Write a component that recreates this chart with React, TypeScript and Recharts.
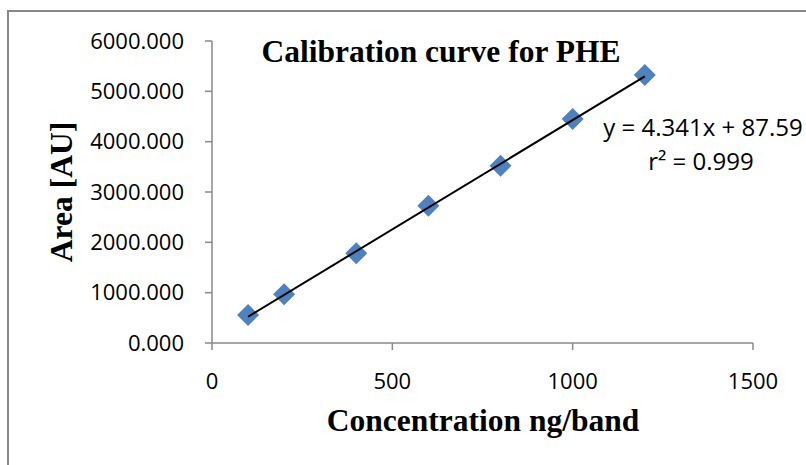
import React from 'react';
import { ScatterChart, Scatter, XAxis, YAxis } from 'recharts';

const concentrations = [100, 200, 400, 600, 800, 1000, 1200];
const areas = [556, 967, 1782, 2728, 3523, 4451, 5325];
const xTicks = [0, 500, 1000, 1500];
const yTicks = [0, 1000, 2000, 3000, 4000, 5000, 6000];
const slope = 4.341;
const intercept = 87.59;
const trendX = [100, 1200];
const titleText = 'Calibration curve for PHE';
const xLabelText = 'Concentration ng/band';
const yLabelText = 'Area [AU]';
const equationText = 'y = 4.341x + 87.59';
const r2Text = 'r² = 0.999';

const pointData = concentrations.map((x, i) => ({ x, y: areas[i] }));
const trendData = trendX.map((x) => ({ x, y: slope * x + intercept }));

const W = 806;
const H = 465;
const AXIS = '#898989';
const SANS = '"Open Sans", sans-serif';
const SERIF = '"Liberation Serif", "Times New Roman", serif';

const Diamond = (props: any) => {
  const { cx, cy } = props;
  const r = 11;
  return (
    <polygon
      points={`${cx},${cy - r} ${cx + r},${cy} ${cx},${cy + r} ${cx - r},${cy}`}
      fill="#4F81BD"
    />
  );
};

const NoShape = () => <g />;

export default function App() {
  return (
    <div style={{ position: 'absolute', left: 0, top: 0, width: W, height: H, background: '#fff' }}>
      <ScatterChart
        width={W}
        height={H}
        margin={{ top: 41, right: 53, bottom: 62, left: 72 }}
      >
        <XAxis
          type="number"
          dataKey="x"
          domain={[0, 1500]}
          ticks={xTicks}
          height={60}
          axisLine={{ stroke: AXIS, strokeWidth: 1.5 }}
          tickLine={{ stroke: AXIS, strokeWidth: 1.5 }}
          tickSize={7}
          tickMargin={23}
          tick={{ fill: '#000', fontSize: 22, fontFamily: SANS }}
          interval={0}
        />
        <YAxis
          type="number"
          dataKey="y"
          domain={[0, 6000]}
          ticks={yTicks}
          width={140}
          axisLine={{ stroke: AXIS, strokeWidth: 1.5 }}
          tickLine={{ stroke: AXIS, strokeWidth: 1.5 }}
          tickSize={7}
          tickMargin={21}
          tick={{ fill: '#000', fontSize: 22, fontFamily: SANS }}
          tickFormatter={(v: number) => v.toFixed(3)}
          interval={0}
        />
        <Scatter data={pointData} shape={Diamond} isAnimationActive={false} />
        <Scatter
          data={trendData}
          line={{ stroke: '#000', strokeWidth: 2 }}
          shape={NoShape}
          isAnimationActive={false}
        />
      </ScatterChart>
      <svg
        width={W}
        height={H}
        style={{ position: 'absolute', left: 0, top: 0, pointerEvents: 'none' }}
      >
        <line x1={8} y1={11} x2={W} y2={11} stroke="#888" strokeWidth={2} />
        <line x1={8} y1={10} x2={8} y2={H} stroke="#888" strokeWidth={2} />
        <text x={441} y={62} textAnchor="middle" fontFamily={SERIF} fontWeight="bold" fontSize={31.5} fill="#000">
          {titleText}
        </text>
        <text x={483} y={431} textAnchor="middle" fontFamily={SERIF} fontWeight="bold" fontSize={31.5} fill="#000">
          {xLabelText}
        </text>
        <text
          x={0}
          y={0}
          transform="translate(72,192) rotate(-90)"
          textAnchor="middle"
          fontFamily={SERIF}
          fontWeight="bold"
          fontSize={31.5}
          fill="#000"
        >
          {yLabelText}
        </text>
        <text x={703} y={136} textAnchor="middle" fontFamily={SANS} fontSize={24} fill="#000">
          {equationText}
        </text>
        <text x={701} y={170} textAnchor="middle" fontFamily={SANS} fontSize={24} fill="#000">
          {r2Text}
        </text>
      </svg>
    </div>
  );
}
